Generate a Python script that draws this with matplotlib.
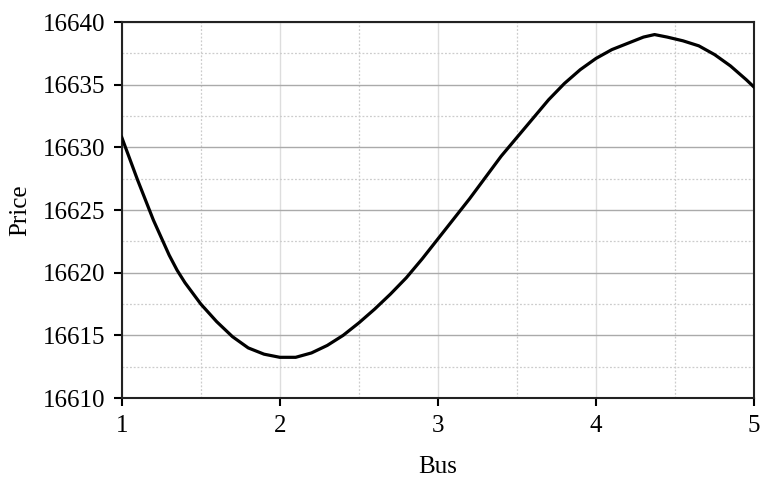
import matplotlib
matplotlib.use("Agg")
import matplotlib.pyplot as plt
from matplotlib.ticker import MultipleLocator

# price
bus = [1.0, 1.05, 1.1, 1.15, 1.2, 1.25, 1.3, 1.35, 1.4, 1.5, 1.6, 1.7, 1.8,
       1.9, 2.0, 2.1, 2.2, 2.3, 2.4, 2.5, 2.6, 2.7, 2.8, 2.9, 3.0, 3.1, 3.2,
       3.3, 3.4, 3.5, 3.6, 3.7, 3.8, 3.9, 4.0, 4.1, 4.2, 4.3, 4.37, 4.45,
       4.55, 4.65, 4.75, 4.85, 4.95, 5.0]
price = [16630.8, 16629.1, 16627.4, 16625.8, 16624.2, 16622.8, 16621.4,
         16620.2, 16619.2, 16617.5, 16616.1, 16614.9, 16614.0, 16613.5,
         16613.25, 16613.25, 16613.6, 16614.2, 16615.0, 16616.0, 16617.1,
         16618.3, 16619.6, 16621.1, 16622.7, 16624.3, 16625.9, 16627.6,
         16629.3, 16630.8, 16632.3, 16633.8, 16635.1, 16636.2, 16637.1,
         16637.8, 16638.3, 16638.8, 16639.0, 16638.8, 16638.5, 16638.1,
         16637.4, 16636.5, 16635.4, 16634.8]

plt.rcParams['font.family'] = ['Liberation Serif', 'DejaVu Serif']

fig = plt.figure(figsize=(7.61, 4.79), dpi=100)
ax = fig.add_axes([0.160, 0.169, 0.831, 0.785])

ax.plot(bus, price, color='black', linewidth=2.3, zorder=3,
        solid_joinstyle='round')

ax.set_xlim(1, 5)
ax.set_ylim(16610, 16640)
ax.xaxis.set_major_locator(MultipleLocator(1))
ax.xaxis.set_minor_locator(MultipleLocator(0.5))
ax.yaxis.set_major_locator(MultipleLocator(5))
ax.yaxis.set_minor_locator(MultipleLocator(2.5))

ax.grid(True, which='major', axis='y', color='#aaaaaa', linewidth=1.0)
ax.grid(True, which='major', axis='x', color='#dddddd', linewidth=1.0)
ax.grid(True, which='minor', color='#cccccc', linewidth=0.9, linestyle=(0, (1.5, 1.5)))

for s in ax.spines.values():
    s.set_linewidth(1.5)
    s.set_color('#222222')

ax.tick_params(which='major', direction='out', length=6, width=1.5,
               labelsize=18, pad=6)
ax.tick_params(which='minor', length=0)

ax.set_xlabel('Bus', fontsize=18, labelpad=14)
ax.set_ylabel('Price', fontsize=18, labelpad=8)

fig.savefig('out.png', dpi=100)
